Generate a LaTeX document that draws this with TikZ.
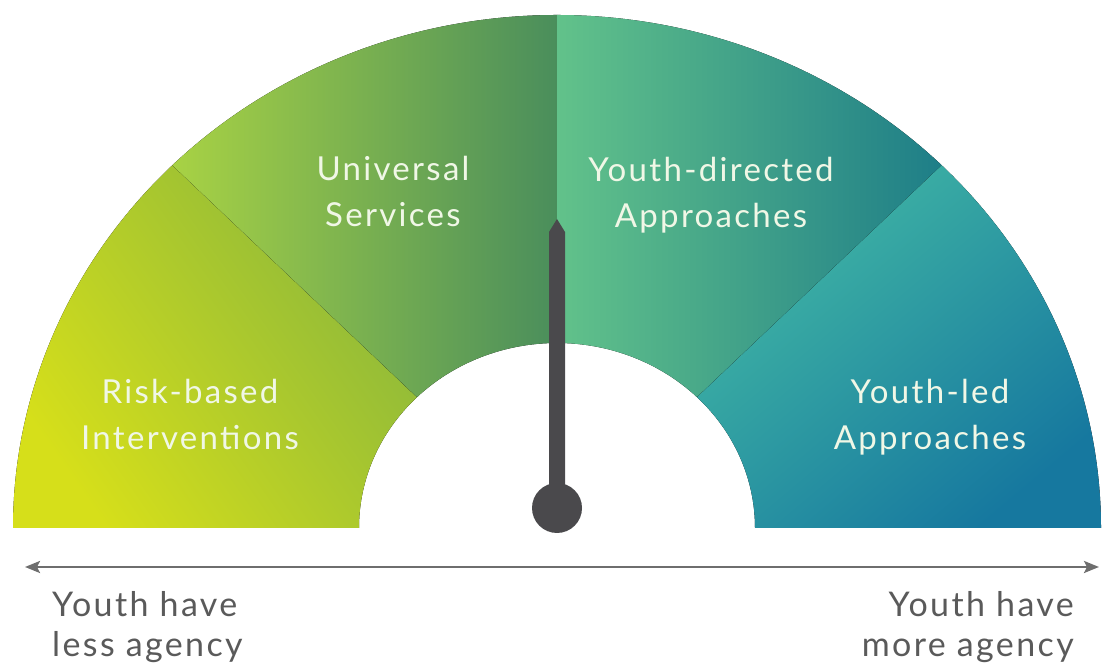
\documentclass[tikz,border=0pt]{standalone}
\usepackage{fontspec}
\setmainfont{Lato}[LetterSpace=7]
\usetikzlibrary{arrows.meta}

\definecolor{riskyellow}{HTML}{D6DF1A}
\definecolor{riskgreen}{HTML}{8AB73C}
\definecolor{univlight}{HTML}{A8D244}
\definecolor{univdark}{HTML}{4A8E5C}
\definecolor{dirlight}{HTML}{62C28A}
\definecolor{dirdark}{HTML}{1E7E88}
\definecolor{ledteal}{HTML}{42B8A4}
\definecolor{ledcyan}{HTML}{28ABC4}
\definecolor{ledblue}{HTML}{16789F}
\definecolor{needlegray}{HTML}{4A494C}
\definecolor{axisgray}{HTML}{6E6E6E}
\definecolor{labelwhite}{HTML}{F0F7E6}
\definecolor{agencygray}{HTML}{5A5A5A}

\tikzset{
  seglabel/.style = {text=labelwhite, align=center, inner sep=0pt,
    font=\fontsize{33}{46}\selectfont},
  agencylabel/.style = {text=agencygray, inner sep=0pt,
    font=\fontsize{34}{40}\selectfont},
  axistip/.tip = {Stealth[length=15pt, width=12pt, inset=3pt]}
}

\begin{document}
\begin{tikzpicture}[x=1pt, y=1pt]
    \useasboundingbox (0,0) rectangle (1103,668);

    % gauge, centre of the dial at (557,140)
    \begin{scope}[shift={(557,140)}]
        \fill[top color=riskgreen, bottom color=riskyellow, shading angle=-55]
            (180:544 and 513) arc[start angle=180, end angle=135, x radius=544, y radius=513]
            -- (135:198 and 185) arc[start angle=135, end angle=180, x radius=198, y radius=185] -- cycle;
        \fill[left color=univlight, right color=univdark]
            (135:544 and 513) arc[start angle=135, end angle=90, x radius=544, y radius=513]
            -- (90:198 and 185) arc[start angle=90, end angle=135, x radius=198, y radius=185] -- cycle;
        \fill[left color=dirlight, right color=dirdark]
            (90:544 and 513) arc[start angle=90, end angle=45, x radius=544, y radius=513]
            -- (45:198 and 185) arc[start angle=45, end angle=90, x radius=198, y radius=185] -- cycle;
        \fill[top color=ledteal, middle color=ledcyan, bottom color=ledblue, shading angle=40]
            (45:544 and 513) arc[start angle=45, end angle=0, x radius=544, y radius=513]
            -- (0:198 and 185) arc[start angle=0, end angle=45, x radius=198, y radius=185] -- cycle;
    \end{scope}

    % labels: base is the baseline of the last line
    \node[seglabel, anchor=base] (risk) at (190,218) {Risk-based\\Interventions};
    \node[seglabel, anchor=base] (universal) at (393,441) {Universal\\Services};
    \node[seglabel, anchor=base] (directed) at (711,440) {Youth-directed\\Approaches};
    \node[seglabel, anchor=base] (led) at (930,218) {Youth-led\\Approaches};

    % needle
    \fill[needlegray] (549,160) -- (549,436) -- (557,449) -- (565,436) -- (565,160) -- cycle;
    \node[circle, fill=needlegray, minimum size=50pt, inner sep=0pt] (hub) at (557,160) {};

    % agency axis
    \coordinate (lessend) at (25,101);
    \coordinate (moreend) at (1099,101);
    \draw[axisgray, line width=2.5pt, axistip-axistip] (lessend) -- (moreend);

    \node[agencylabel, align=left, anchor=base west] (less) at (52,11) {Youth have\\less agency};
    \node[agencylabel, align=right, anchor=base east] (more) at (1074,11) {Youth have\\more agency};
\end{tikzpicture}
\end{document}
